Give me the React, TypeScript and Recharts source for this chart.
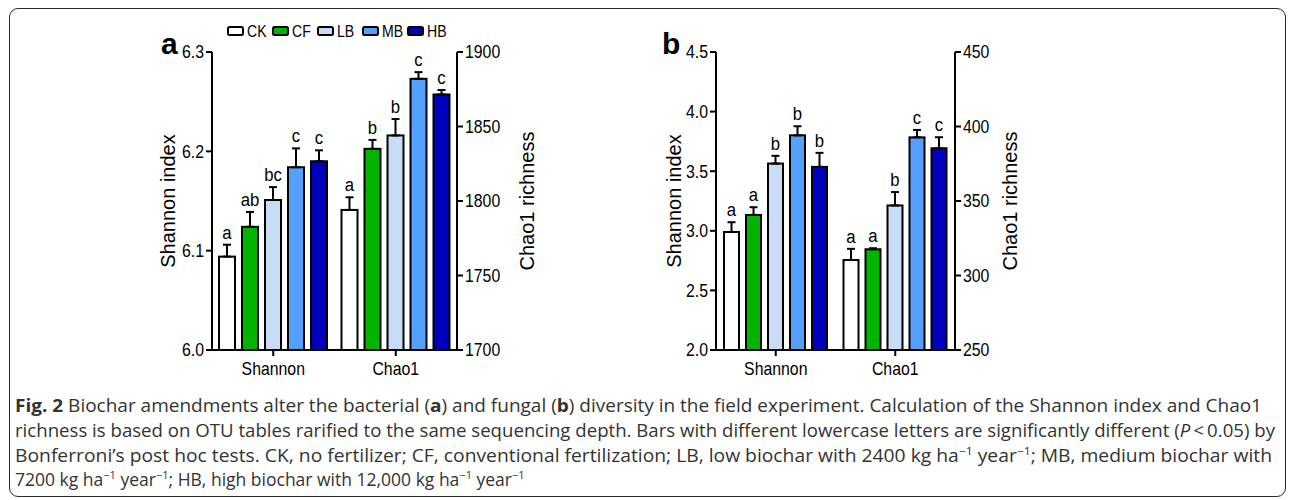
import React from 'react';
import { BarChart, Bar, XAxis, YAxis, ErrorBar, Legend } from 'recharts';

const categories = ['Shannon', 'Chao1'];
const treatments = ['CK', 'CF', 'LB', 'MB', 'HB'];
const colors = ['#ffffff', '#00b400', '#c8dcf6', '#55a0fc', '#0000bc'];

// panel a – bacteria
const bactShannon = [6.094, 6.124, 6.151, 6.184, 6.19];
const bactShannonErr = [0.012, 0.015, 0.013, 0.019, 0.011];
const bactShannonLetters = ['a', 'ab', 'bc', 'c', 'c'];
const bactChao1 = [1794, 1835, 1844, 1882, 1871.5];
const bactChao1Err = [8.5, 6, 11, 4.5, 3];
const bactChao1Letters = ['a', 'b', 'b', 'c', 'c'];
const bactShannonTicks = [6.0, 6.1, 6.2, 6.3];
const bactChao1Ticks = [1700, 1750, 1800, 1850, 1900];

// panel b – fungi
const fungShannon = [2.99, 3.133, 3.564, 3.801, 3.536];
const fungShannonErr = [0.082, 0.065, 0.065, 0.076, 0.118];
const fungShannonLetters = ['a', 'a', 'b', 'b', 'b'];
const fungChao1 = [310.4, 317.6, 347, 392.7, 385.4];
const fungChao1Err = [7.5, 0.7, 9, 5, 7.4];
const fungChao1Letters = ['a', 'a', 'b', 'c', 'c'];
const fungShannonTicks = [2.0, 2.5, 3.0, 3.5, 4.0, 4.5];
const fungChao1Ticks = [250, 300, 350, 400, 450];

const FONT = '"Liberation Sans", Arial, sans-serif';
const CAPTION_FONT = '"Open Sans", "Noto Sans", sans-serif';
const NARROW = 0.88;

function buildRows(sh: number[], shErr: number[], ch: number[], chErr: number[]) {
  return categories.map((cat, ci) => {
    const row: any = { cat };
    treatments.forEach((t, ti) => {
      row[`s_${t}`] = ci === 0 ? sh[ti] : null;
      row[`s_${t}_err`] = ci === 0 ? [0, shErr[ti]] : null;
      row[`c_${t}`] = ci === 1 ? ch[ti] : null;
      row[`c_${t}_err`] = ci === 1 ? [0, chErr[ti]] : null;
    });
    return row;
  });
}

const NarrowText = ({ x, y, anchor, dy, size, children }: any) => (
  <g transform={`translate(${x},${y})`}>
    <text transform={`scale(${NARROW},1)`} textAnchor={anchor} dy={dy} fontFamily={FONT} fontSize={size} fill="#000">
      {children}
    </text>
  </g>
);

const makeTick = (fmt?: (v: number) => string, isX?: boolean) => (props: any) => {
  const { x, y, payload, textAnchor } = props;
  const label = fmt ? fmt(payload.value) : String(payload.value);
  return (
    <NarrowText x={x} y={y} anchor={textAnchor} dy={isX ? '0.95em' : '0.36em'} size={18}>
      {label}
    </NarrowText>
  );
};

const makeShape = (key: string, letter: string, value: number, err: number, min: number) => (props: any) => {
  const { x, y, width, height, fill, payload } = props;
  if (!payload || payload[key] == null || height == null || !isFinite(height) || height <= 0) return <g />;
  const pxPerUnit = height / (value - min);
  const ly = y - err * pxPerUnit - 6;
  return (
    <g>
      <rect x={x} y={y} width={width} height={height} fill={fill} stroke="#000" strokeWidth={2} />
      <NarrowText x={x + width / 2} y={ly} anchor="middle" dy={0} size={19}>
        {letter}
      </NarrowText>
    </g>
  );
};

const LegendContent = (props: any) => {
  const items = (props.payload || [])
    .filter((p: any) => p.type !== 'none')
    .sort((a: any, b: any) => treatments.indexOf(a.value) - treatments.indexOf(b.value));
  return (
    <svg width={245} height={18} style={{ display: 'block' }}>
      {items.map((p: any, i: number) => {
        const x0 = 15 + i * 45;
        return (
          <g key={p.value}>
            <rect x={x0 + 1} y={5} width={15} height={8} rx={1.5} fill={p.color} stroke="#000" strokeWidth={2} />
            <g transform={`translate(${x0 + 20},9)`}>
              <text transform={`scale(${NARROW},1)`} dy="0.36em" fontFamily={FONT} fontSize={16} fill="#000">
                {p.value}
              </text>
            </g>
          </g>
        );
      })}
    </svg>
  );
};

type PanelProps = {
  left: number;
  width: number;
  marginLeft: number;
  marginRight: number;
  sh: number[]; shErr: number[]; shLet: string[];
  ch: number[]; chErr: number[]; chLet: string[];
  shTicks: number[]; chTicks: number[];
  shFmt: (v: number) => string;
  leftLabelOffset: number; rightLabelOffset: number;
  legend: boolean;
  barCategoryGap: number; barGap: number;
};

function Panel(p: PanelProps) {
  const rows = buildRows(p.sh, p.shErr, p.ch, p.chErr);
  const shMin = p.shTicks[0];
  const shMax = p.shTicks[p.shTicks.length - 1];
  const chMin = p.chTicks[0];
  const chMax = p.chTicks[p.chTicks.length - 1];
  const axisLine = { stroke: '#000', strokeWidth: 2 };
  const titleStyle = { textAnchor: 'middle', fontFamily: FONT, fontSize: 20, fill: '#000' } as any;
  return (
    <div style={{ position: 'absolute', left: p.left, top: 0 }}>
      <BarChart
        width={p.width}
        height={400}
        data={rows}
        margin={{ top: 52, right: p.marginRight, bottom: 20, left: p.marginLeft }}
        barCategoryGap={p.barCategoryGap}
        barGap={p.barGap}
      >
        <XAxis xAxisId="s" dataKey="cat" tick={makeTick(undefined, true)} axisLine={axisLine} tickLine={axisLine} tickSize={6} height={30} interval={0} />
        <XAxis xAxisId="c" dataKey="cat" hide height={0} />
        <YAxis
          yAxisId="L"
          orientation="left"
          type="number"
          domain={[shMin, shMax]}
          ticks={p.shTicks}
          allowDataOverflow
          interval={0}
          width={70}
          tick={makeTick(p.shFmt)}
          axisLine={axisLine}
          tickLine={axisLine}
          tickSize={6}
          label={{ value: 'Shannon index', angle: -90, position: 'insideLeft', offset: p.leftLabelOffset, style: titleStyle }}
        />
        <YAxis
          yAxisId="R"
          orientation="right"
          type="number"
          domain={[chMin, chMax]}
          ticks={p.chTicks}
          allowDataOverflow
          interval={0}
          width={80}
          tick={makeTick()}
          axisLine={axisLine}
          tickLine={axisLine}
          tickSize={6}
          label={{ value: 'Chao1 richness', angle: -90, position: 'insideRight', offset: p.rightLabelOffset, style: titleStyle }}
        />
        {p.legend && (
          <Legend
            layout="horizontal"
            verticalAlign="middle"
            align="center"
            content={<LegendContent />}
            wrapperStyle={{ top: 22, left: p.marginLeft + 70, width: 245, height: 18 }}
          />
        )}
        {treatments.map((t, i) => (
          <Bar
            key={`s_${t}`}
            xAxisId="s"
            yAxisId="L"
            dataKey={`s_${t}`}
            name={t}
            fill={colors[i]}
            isAnimationActive={false}
            shape={makeShape(`s_${t}`, p.shLet[i], p.sh[i], p.shErr[i], shMin)}
          >
            <ErrorBar dataKey={`s_${t}_err`} width={4} strokeWidth={2} stroke="#000" direction="y" />
          </Bar>
        ))}
        {treatments.map((t, i) => (
          <Bar
            key={`c_${t}`}
            xAxisId="c"
            yAxisId="R"
            dataKey={`c_${t}`}
            name={`${t} Chao1`}
            legendType="none"
            fill={colors[i]}
            isAnimationActive={false}
            shape={makeShape(`c_${t}`, p.chLet[i], p.ch[i], p.chErr[i], chMin)}
          >
            <ErrorBar dataKey={`c_${t}_err`} width={4} strokeWidth={2} stroke="#000" direction="y" />
          </Bar>
        ))}
      </BarChart>
    </div>
  );
}

const sup = (s: string) => (
  <>
    <tspan dy={-7} fontSize={11}>{s}</tspan>
    <tspan dy={7}>{' '}</tspan>
  </>
);

function Caption() {
  const common = { fontFamily: CAPTION_FONT, fontSize: 17.5, fill: '#333' };
  return (
    <svg width={1290} height={110} style={{ position: 'absolute', left: 0, top: 390 }}>
      <text x={15} y={22} textLength={1247} lengthAdjust="spacingAndGlyphs" {...common}>
        <tspan fontWeight="bold">Fig. 2</tspan> Biochar amendments alter the bacterial (<tspan fontWeight="bold">a</tspan>) and fungal (<tspan fontWeight="bold">b</tspan>) diversity in the field experiment. Calculation of the Shannon index and Chao1
      </text>
      <text x={15} y={47} textLength={1260} lengthAdjust="spacingAndGlyphs" {...common}>
        richness is based on OTU tables rarified to the same sequencing depth. Bars with different lowercase letters are significantly different (<tspan fontStyle="italic">P</tspan>{'\u2009<\u2009'}0.05) by
      </text>
      <text x={15} y={72} textLength={1257} lengthAdjust="spacingAndGlyphs" {...common}>
        Bonferroni’s post hoc tests. CK, no fertilizer; CF, conventional fertilization; LB, low biochar with 2400 kg ha{sup('−1')}year<tspan dy={-7} fontSize={11}>−1</tspan><tspan dy={7}>; MB, medium biochar with</tspan>
      </text>
      <text x={15} y={96} {...common}>
        7200 kg ha{sup('−1')}year<tspan dy={-7} fontSize={11}>−1</tspan><tspan dy={7}>; HB, high biochar with 12,000 kg ha</tspan>{sup('−1')}year<tspan dy={-7} fontSize={11}>−1</tspan>
      </text>
    </svg>
  );
}

export default function App() {
  const fmt1 = (v: number) => v.toFixed(1);
  return (
    <div style={{ position: 'absolute', left: 0, top: 0, width: 1290, height: 500, background: '#fff', overflow: 'hidden' }}>
      <div style={{ position: 'absolute', left: 9, top: 8, width: 1277, height: 489, border: '1.5px solid #2a2a2a', borderRadius: 9, boxSizing: 'border-box' }} />
      <Panel
        left={0} width={580} marginLeft={142} marginRight={43}
        sh={bactShannon} shErr={bactShannonErr} shLet={bactShannonLetters}
        ch={bactChao1} chErr={bactChao1Err} chLet={bactChao1Letters}
        shTicks={bactShannonTicks} chTicks={bactChao1Ticks} shFmt={fmt1}
        leftLabelOffset={26} rightLabelOffset={10} legend={true}
        barCategoryGap={7} barGap={7}
      />
      <Panel
        left={580} width={500} marginLeft={66} marginRight={45}
        sh={fungShannon} shErr={fungShannonErr} shLet={fungShannonLetters}
        ch={fungChao1} chErr={fungChao1Err} chLet={fungChao1Letters}
        shTicks={fungShannonTicks} chTicks={fungChao1Ticks} shFmt={fmt1}
        leftLabelOffset={28} rightLabelOffset={25} legend={false}
        barCategoryGap={8} barGap={7}
      />
      <div style={{ position: 'absolute', left: 161, top: 29, fontFamily: FONT, fontWeight: 'bold', fontSize: 30, lineHeight: '30px' }}>a</div>
      <div style={{ position: 'absolute', left: 662, top: 29, fontFamily: FONT, fontWeight: 'bold', fontSize: 30, lineHeight: '30px' }}>b</div>
      <Caption />
    </div>
  );
}
